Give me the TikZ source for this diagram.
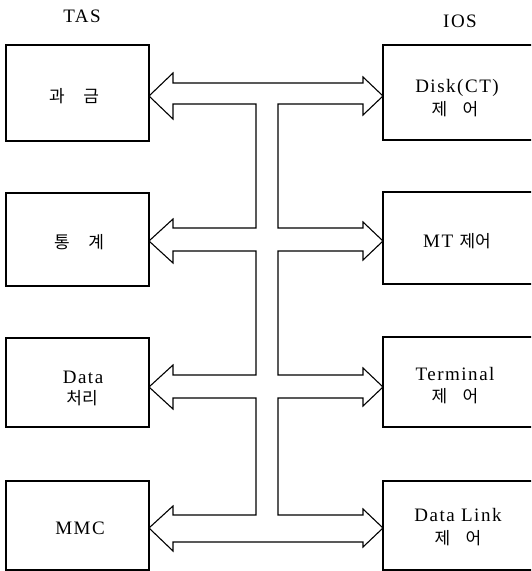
\documentclass[tikz,border=0pt]{standalone}
\usepackage{fontspec}
\setmainfont{Liberation Serif}[LetterSpace=8]
\newfontfamily\kr{Noto Sans CJK KR}
\tikzset{
  box/.style={draw, line width=1.1pt, rectangle, inner sep=0pt},
  lbl/.style={inner sep=0pt, align=center, font=\fontsize{19}{22}\selectfont},
  krf/.style={font=\fontsize{17}{22}\selectfont\kr},
  bus/.style={draw, line width=1.1pt, line join=miter},
}
\begin{document}
\begin{tikzpicture}[x=1pt,y=-1pt]
\useasboundingbox (0,0) rectangle (531,571);
\clip (0,0) rectangle (531,571);
% left boxes
\node[box, minimum width=143pt, minimum height=96pt] (L1) at (77.5,93) {};
\node[box, minimum width=143pt, minimum height=93pt] (L2) at (77.5,239.5) {};
\node[box, minimum width=143pt, minimum height=89pt] (L3) at (77.5,382.5) {};
\node[box, minimum width=143pt, minimum height=89pt] (L4) at (77.5,525.5) {};
% right boxes
\node[box, minimum width=197pt, minimum height=95pt] (R1) at (481.5,92.5) {};
\node[box, minimum width=197pt, minimum height=92pt] (R2) at (481.5,238) {};
\node[box, minimum width=197pt, minimum height=90pt] (R3) at (481.5,382) {};
\node[box, minimum width=197pt, minimum height=89pt] (R4) at (481.5,525.5) {};
% headings
\node[lbl] (tas) at (82,16) {TAS};
\node[lbl] (ios) at (460,21) {IOS};
% box texts
\node[lbl, krf] (t1) at (74,96) {과\hspace{1.1em}금};
\node[lbl, krf] (t2) at (79,242) {통\hspace{1.1em}계};
\node[lbl] (t3a) at (83,377) {Data};
\node[lbl, krf] (t3b) at (82,398) {처리};
\node[lbl] (t4) at (80,528) {MMC};
\node[lbl] (r1a) at (457,88) {Disk(CT)};
\node[lbl, krf] (r1b) at (455,109) {제\hspace{0.9em}어};
\node[lbl] (r2) at (457,241) {MT {\fontsize{17}{22}\selectfont\kr 제어}};
\node[lbl] (r3a) at (455,374) {Terminal};
\node[lbl, krf] (r3b) at (455,396) {제\hspace{0.9em}어};
\node[lbl] (r4a) at (458,515) {Data Link};
\node[lbl, krf] (r4b) at (458,538) {제\hspace{0.9em}어};
% bus with double arrows
\draw[bus] (149,96) -- (173,73) -- (173,83) -- (363,83) -- (363,77) -- (383,96)
  -- (363,115) -- (363,104) -- (278,104) -- (278,228) -- (363,228) -- (363,222)
  -- (383,241) -- (363,260) -- (363,251) -- (278,251) -- (278,375) -- (363,375)
  -- (363,368) -- (383,387) -- (363,406) -- (363,398) -- (278,398) -- (278,515)
  -- (363,515) -- (363,509) -- (383,528) -- (363,547) -- (363,542) -- (173,542)
  -- (173,551) -- (149,528) -- (173,506) -- (173,515) -- (256,515) -- (256,398)
  -- (173,398) -- (173,409) -- (149,387) -- (173,365) -- (173,375) -- (256,375)
  -- (256,251) -- (173,251) -- (173,263) -- (149,241) -- (173,219) -- (173,228)
  -- (256,228) -- (256,104) -- (173,104) -- (173,119) -- cycle;
\end{tikzpicture}
\end{document}
